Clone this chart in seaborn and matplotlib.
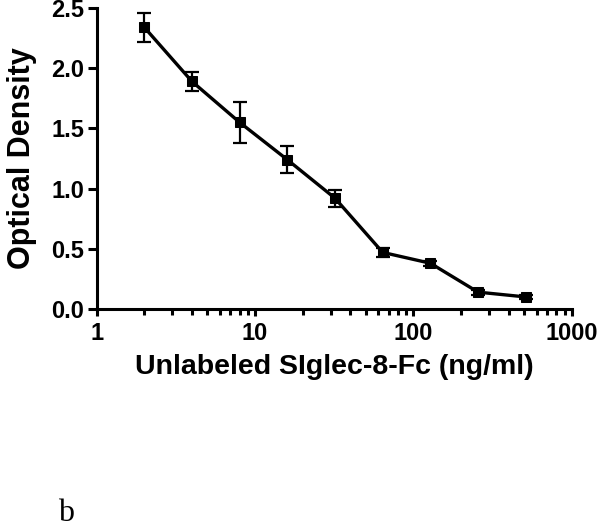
import numpy as np
import pandas as pd
import matplotlib
matplotlib.use("Agg")
import matplotlib.pyplot as plt
import seaborn as sns
from matplotlib.ticker import LogLocator, NullFormatter, FixedLocator, FixedFormatter

conc = [2, 4, 8, 16, 32, 64, 128, 256, 512]
od = [2.34, 1.89, 1.55, 1.24, 0.92, 0.47, 0.38, 0.14, 0.10]
err = [0.12, 0.08, 0.17, 0.11, 0.07, 0.04, 0.02, 0.02, 0.02]
xticks = [1, 10, 100, 1000]
xticklabels = ["1", "10", "100", "1000"]
yticks = [0.0, 0.5, 1.0, 1.5, 2.0, 2.5]

sns.set_style("ticks")
plt.rcParams['font.family'] = ['Liberation Sans', 'DejaVu Sans']
plt.rcParams['text.color'] = 'black'
plt.rcParams['axes.labelcolor'] = 'black'
plt.rcParams['xtick.color'] = 'black'
plt.rcParams['ytick.color'] = 'black'

df = pd.DataFrame({"conc": conc, "od": od})

fig = plt.figure(figsize=(6.0, 5.28), dpi=100)
ax = fig.add_axes([0.161, 0.4148, 0.792, 0.5700])

ax.errorbar(conc, od, yerr=err, fmt='none', ecolor='black', elinewidth=1.6,
            capsize=5, capthick=1.6, zorder=3)
sns.lineplot(data=df, x="conc", y="od", ax=ax, color='black', linewidth=2.4,
             marker='s', markersize=7, markeredgecolor='black', zorder=4)

ax.set_xscale('log')
ax.set_xlim(1, 1000)
ax.set_ylim(0, 2.5)
ax.xaxis.set_major_locator(FixedLocator(xticks))
ax.xaxis.set_major_formatter(FixedFormatter(xticklabels))
ax.xaxis.set_minor_locator(LogLocator(base=10, subs=np.arange(2, 10)))
ax.xaxis.set_minor_formatter(NullFormatter())
ax.set_yticks(yticks)
ax.set_yticklabels([f"{v:.1f}" for v in yticks])

for s in ['top', 'right']:
    ax.spines[s].set_visible(False)
for s in ['left', 'bottom']:
    ax.spines[s].set_linewidth(2.2)
    ax.spines[s].set_color('black')

ax.tick_params(axis='y', which='major', direction='out', length=6.5, width=2.2,
               labelsize=17, colors='black', pad=2.5)
ax.tick_params(axis='x', which='major', direction='out', length=5, width=2.2,
               labelsize=17, colors='black', pad=4.5)
ax.tick_params(axis='x', which='minor', direction='out', length=4, width=2.2)
for lab in ax.get_xticklabels() + ax.get_yticklabels():
    lab.set_fontweight('bold')

ax.set_xlabel("Unlabeled SIglec-8-Fc (ng/ml)", fontsize=20.5, fontweight='bold', labelpad=6)
ax.set_ylabel("Optical Density", fontsize=22, fontweight='bold', labelpad=10)

fig.text(58/600, 1 - 521/528, "b", family=['Liberation Serif', 'DejaVu Serif'],
         fontsize=23, ha='left', va='baseline')

fig.savefig("out.png", dpi=100)
